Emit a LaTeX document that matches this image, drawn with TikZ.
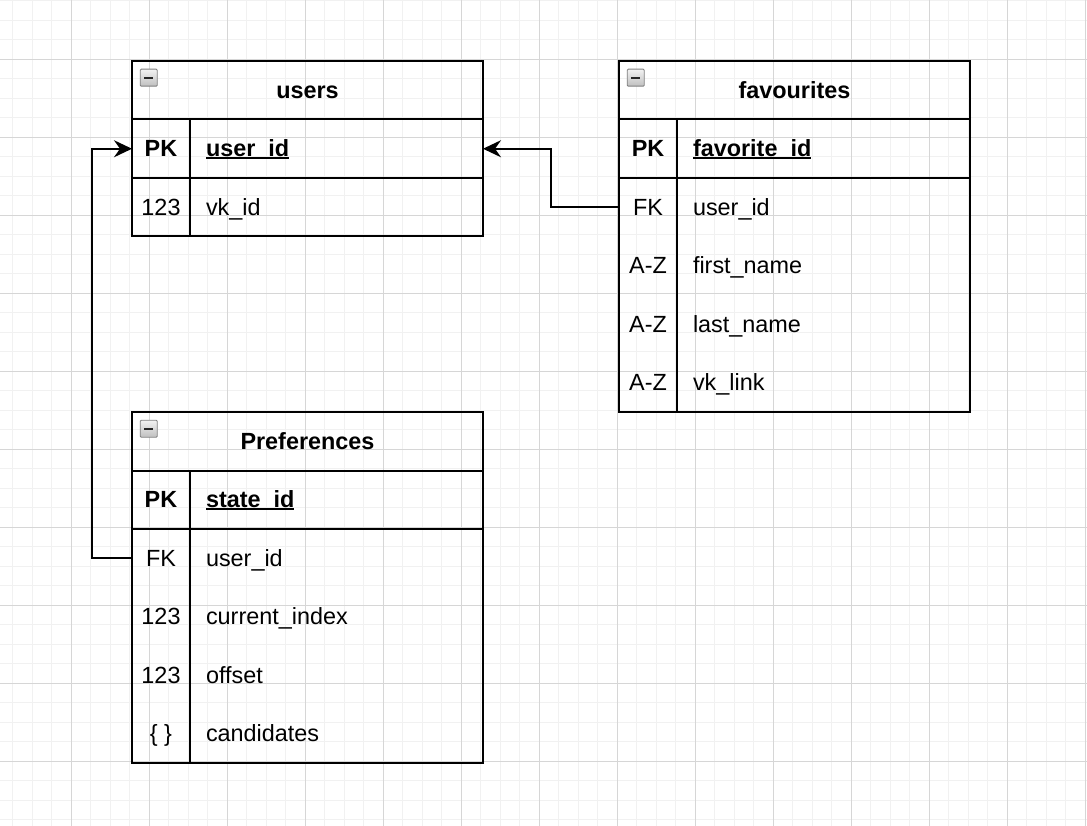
\documentclass[tikz,border=0pt]{standalone}
\usepackage{fontspec}
\setmainfont{Liberation Sans}
\usetikzlibrary{positioning,arrows.meta}
\newcommand{\erfont}{\fontsize{23.4}{28}\selectfont}
\newcommand{\pkname}[1]{\setbox0=\hbox{#1}\rlap{\rule[-1.6pt]{\wd0}{1.3pt}}\box0}
\begin{document}
\begin{tikzpicture}[x=1pt,y=-1pt,font=\erfont,
    gridminor/.style={gray!11,line width=0.8pt},
    gridmajor/.style={gray!32,line width=0.8pt},
    tabline/.style={line width=2pt},
    tabhead/.style={draw,tabline,outer sep=0pt,minimum width=351pt,minimum height=58.5pt,
      anchor=north west,font=\erfont\bfseries,text height=16.4pt,text depth=0pt},
    keycell/.style={outer sep=0pt,inner sep=0pt,minimum width=58pt,minimum height=58.5pt,
      text height=16.4pt,text depth=0pt},
    fieldcell/.style={outer sep=0pt,inner xsep=16pt,inner ysep=0pt,text width=261pt,align=left,
      minimum height=58.5pt,text height=16.4pt,text depth=0pt},
    pkkey/.style={keycell,draw,tabline,font=\erfont\bfseries},
    pkfield/.style={fieldcell,draw,tabline,font=\erfont\bfseries},
    toggle/.style={draw=black!50,top color=gray!10,bottom color=gray!50,line width=0.9pt,
      minimum size=17pt,inner sep=0pt,rounded corners=1pt,
      path picture={\draw[line width=2.2pt,black!85]
        ([xshift=-4.5pt]path picture bounding box.center) -- ([xshift=4.5pt]path picture bounding box.center);}},
    fk/.style={line width=2pt,-{Stealth[length=18pt,width=17pt,inset=6pt]}}]
  \useasboundingbox (0,0) rectangle (1087,826);
  % background grid
  \foreach \i in {0,...,55} \draw[gridminor] (12.8+19.5*\i,0) -- (12.8+19.5*\i,826);
  \foreach \j in {0,...,42} \draw[gridminor] (0,0.8+19.5*\j) -- (1087,0.8+19.5*\j);
  \foreach \i in {0,...,13} \draw[gridmajor] (71.3+78*\i,0) -- (71.3+78*\i,826);
  \foreach \j in {0,...,9} \draw[gridmajor] (0,59.3+78*\j) -- (1087,59.3+78*\j);

  % users
  \node[tabhead] (users) at (132,61) {users};
  \node[toggle] (usersToggle) at ([shift={(16.7,16.7)}]users.north west) {};
  \node[pkkey,anchor=north west] (usersK0) at (users.south west) {PK};
  \node[pkfield,right=0pt of usersK0] (usersF0) {\pkname{user\_id}};
  \foreach \k/\f [count=\i, remember=\i as \j (initially 0)] in {123/vk\_id} {
    \node[keycell,below=0pt of usersK\j] (usersK\i) {\k};
    \node[fieldcell,right=0pt of usersK\i] (usersF\i) {\f};
  }
  \draw[tabline] (usersK0.south west) rectangle (usersF1.south east);
  \draw[tabline] (usersK0.south east) -- (usersK1.south east);

  % favourites
  \node[tabhead] (fav) at (619,61) {favourites};
  \node[toggle] (favToggle) at ([shift={(16.7,16.7)}]fav.north west) {};
  \node[pkkey,anchor=north west] (favK0) at (fav.south west) {PK};
  \node[pkfield,right=0pt of favK0] (favF0) {\pkname{favorite\_id}};
  \foreach \k/\f [count=\i, remember=\i as \j (initially 0)] in
      {FK/user\_id, A-Z/first\_name, A-Z/last\_name, A-Z/vk\_link} {
    \node[keycell,below=0pt of favK\j] (favK\i) {\k};
    \node[fieldcell,right=0pt of favK\i] (favF\i) {\f};
  }
  \draw[tabline] (favK0.south west) rectangle (favF4.south east);
  \draw[tabline] (favK0.south east) -- (favK4.south east);

  % Preferences
  \node[tabhead] (pref) at (132,412) {Preferences};
  \node[toggle] (prefToggle) at ([shift={(16.7,16.7)}]pref.north west) {};
  \node[pkkey,anchor=north west] (prefK0) at (pref.south west) {PK};
  \node[pkfield,right=0pt of prefK0] (prefF0) {\pkname{state\_id}};
  \foreach \k/\f [count=\i, remember=\i as \j (initially 0)] in
      {FK/user\_id, 123/current\_index, 123/offset, \{~\}/candidates} {
    \node[keycell,below=0pt of prefK\j] (prefK\i) {\k};
    \node[fieldcell,right=0pt of prefK\i] (prefF\i) {\f};
  }
  \draw[tabline] (prefK0.south west) rectangle (prefF4.south east);
  \draw[tabline] (prefK0.south east) -- (prefK4.south east);

  % foreign keys
  \draw[fk] (favK1.west) -- ++(-68.3,0) |- (usersF0.east);
  \draw[fk] (prefK1.west) -- ++(-39.7,0) |- (usersK0.west);
\end{tikzpicture}
\end{document}
